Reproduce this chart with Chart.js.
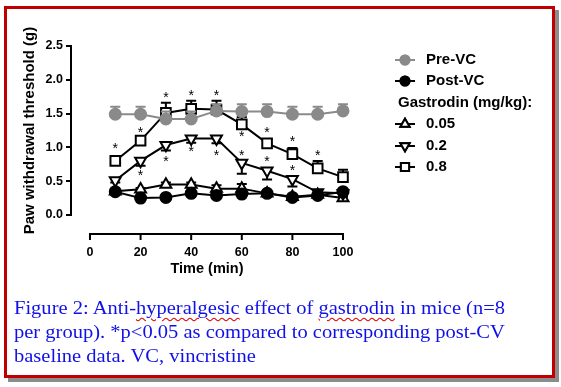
<!DOCTYPE html>
<html><head><meta charset="utf-8">
<script src="https://cdn.jsdelivr.net/npm/chart.js@4/dist/chart.umd.min.js"></script>
<style>
html,body{margin:0;padding:0;background:#fff;width:561px;height:387px;overflow:hidden;}
#frame{position:absolute;left:4px;top:6px;width:545px;height:366px;border:3px solid #c00000;box-shadow:4px 4px 0 #8c8c8c;background:#fff;}
#wrap{position:absolute;left:0;top:0;width:561px;height:387px;}
#caption{position:absolute;left:14px;top:296px;font-family:"Liberation Serif",serif;font-size:18px;line-height:24px;color:#1010e8;white-space:nowrap;}
#caption div{transform-origin:0 0;transform:scaleX(1.14);}
.sp{text-decoration:underline wavy #e00000;text-decoration-thickness:1px;text-underline-offset:3px;}
</style></head>
<body>
<div id="frame"></div>
<div id="wrap"><canvas id="c" width="561" height="387"></canvas></div>
<div id="caption"><div>Figure 2: Anti-<span class="sp">hyperalgesic</span> effect of <span class="sp">gastrodin</span> in mice (n=8</div><div>per group). *p&lt;0.05 as compared to corresponding post-CV</div><div>baseline data. VC, vincristine</div></div>
<script>
const times = [10,20,30,40,50,60,70,80,90,100];
const preVC    = [1.49,1.49,1.42,1.42,1.54,1.53,1.53,1.49,1.49,1.54];
const preVCErr = [0.11,0.11,0.11,0.11,0.10,0.11,0.11,0.11,0.11,0.10];
const postVC    = [0.345,0.25,0.26,0.32,0.29,0.31,0.32,0.26,0.29,0.345];
const postVCErr = [0.02,0.02,0.02,0.02,0.02,0.02,0.02,0.02,0.02,0.02];
const g005    = [0.35,0.38,0.45,0.45,0.39,0.39,0.32,0.27,0.30,0.25];
const g005Err = [0.02,0.02,0.03,0.03,0.05,0.07,0.03,0.02,0.02,0.02];
const g02    = [0.51,0.80,1.035,1.13,1.13,0.77,0.655,0.53,0.335,0.32];
const g02Err = [0.03,0.07,0.08,0.06,0.07,0.16,0.13,0.11,0.03,0.03];
const g08    = [0.80,1.10,1.51,1.57,1.56,1.34,1.06,0.90,0.69,0.56];
const g08Err = [0.03,0.03,0.15,0.12,0.13,0.11,0.06,0.09,0.11,0.11];
const starX = [10,20,20,30,30,40,40,50,50,60,60,70,70,80,80,90];
const starY = [1.035,1.27,0.64,1.79,0.84,1.82,0.99,1.82,0.93,1.21,0.93,1.27,0.84,1.14,0.71,0.93];
const xTicks = [0,20,40,60,80,100];
const yTicks = [0,0.5,1,1.5,2,2.5];
const legendLabels = ['Pre-VC','Post-VC','Gastrodin (mg/kg):','0.05','0.2','0.8'];

const GRAY = '#8a8a8a';
const FONT = "'Liberation Sans', Arial, sans-serif";

function ds(label, data, err, dir, color, style, r, fill, rot){
  return {label, data: data.map((v,i)=>({x:times[i], y:v})), err, dir,
    borderColor: color, backgroundColor: fill, borderWidth: 2,
    pointStyle: style, pointRadius: r, pointRotation: rot||0,
    pointBackgroundColor: fill, pointBorderColor: color, pointBorderWidth: 2,
    tension: 0, clip: false, showLine: true};
}
// dir: +1 = error bar drawn upward, -1 = downward
const datasets = [
  ds('Pre-VC', preVC, preVCErr, 1, GRAY, 'circle', 5.5, GRAY),
  ds('Post-VC', postVC, postVCErr, 1, '#000', 'circle', 5.5, '#000'),
  ds('0.8', g08, g08Err, 1, '#000', 'rect', 6.8, '#fff'),
  ds('0.2', g02, g02Err, -1, '#000', 'triangle', 6.3, '#fff', 180),
  ds('0.05', g005, g005Err, 1, '#000', 'triangle', 6.3, '#fff'),
];

const prism = {
  id: 'prism',
  beforeDatasetDraw(chart, args){
    const d = chart.data.datasets[args.index];
    const xs = chart.scales.x, ys = chart.scales.y, ctx = chart.ctx;
    ctx.save();
    ctx.strokeStyle = d.borderColor; ctx.lineWidth = 2;
    d.data.forEach((p,i)=>{
      const px = xs.getPixelForValue(p.x);
      const y0 = ys.getPixelForValue(p.y);
      const y1 = ys.getPixelForValue(p.y + d.dir * d.err[i]);
      ctx.beginPath(); ctx.moveTo(px,y0); ctx.lineTo(px,y1);
      ctx.moveTo(px-5,y1); ctx.lineTo(px+5,y1); ctx.stroke();
    });
    ctx.restore();
  },
  afterDraw(chart){
    const ctx = chart.ctx, xs = chart.scales.x, ys = chart.scales.y;
    ctx.save();
    // x axis (offset Prism style)
    const ay = ys.getPixelForValue(0) + 19;
    ctx.strokeStyle = '#000'; ctx.lineWidth = 2;
    ctx.beginPath();
    ctx.moveTo(xs.getPixelForValue(xTicks[0]) - 1, ay);
    ctx.lineTo(xs.getPixelForValue(xTicks[xTicks.length-1]) + 1, ay);
    xTicks.forEach(t=>{ const px = xs.getPixelForValue(t); ctx.moveTo(px, ay); ctx.lineTo(px, ay+6); });
    ctx.stroke();
    // asterisks
    ctx.fillStyle = '#000';
    ctx.font = '14px ' + FONT;
    ctx.textAlign = 'center'; ctx.textBaseline = 'alphabetic';
    starX.forEach((x,i)=>{
      ctx.fillText('*', xs.getPixelForValue(x), ys.getPixelForValue(starY[i]) + 8);
    });
    // legend
    const lx = 405, rows = [60, 81, 103, 124, 146, 167];
    const order = [0,1,-1,4,3,2];
    ctx.font = 'bold 15px ' + FONT;
    ctx.textBaseline = 'middle';
    order.forEach((di, k)=>{
      const y = rows[k];
      if (di < 0){ ctx.textAlign='left'; ctx.fillStyle='#000'; ctx.fillText(legendLabels[k], 398, y); return; }
      const d = chart.data.datasets[di];
      ctx.strokeStyle = d.borderColor; ctx.lineWidth = 2;
      ctx.beginPath(); ctx.moveTo(lx-10, y); ctx.lineTo(lx+10, y); ctx.stroke();
      ctx.fillStyle = d.pointBackgroundColor;
      Chart.helpers.drawPoint(ctx, {pointStyle: d.pointStyle, radius: d.pointRadius-1, rotation: d.pointRotation, borderWidth: 2}, lx, y);
      ctx.fill(); ctx.stroke();
      ctx.fillStyle = '#000'; ctx.textAlign='left';
      ctx.fillText(legendLabels[k], 426, y);
    });
    ctx.restore();
  }
};

new Chart(document.getElementById('c'), {
  type: 'scatter',
  data: { datasets },
  options: {
    responsive: false, animation: false, events: [],
    layout: { padding: { left: 18, top: 46, right: 561-343, bottom: 387-280 } },
    plugins: { legend: { display: false }, tooltip: { enabled: false } },
    scales: {
      x: {
        type: 'linear', min: -7.5, max: 100,
        afterBuildTicks: s => { s.ticks = xTicks.map(v=>({value:v})); },
        afterFit: s => { s.height = 280 - 215; },
        grid: { display: false, drawTicks: false }, border: { display: false },
        ticks: { color: '#000', font: { family: FONT, weight: 'bold', size: 12.5 }, padding: 30, autoSkip: false, maxRotation: 0 },
        title: { display: true, text: 'Time (min)', color: '#000',
                 font: { family: FONT, weight: 'bold', size: 14.5 }, padding: { top: 0, bottom: 2 } }
      },
      y: {
        type: 'linear', min: 0, max: 2.5,
        afterBuildTicks: s => { s.ticks = yTicks.map(v=>({value:v})); },
        afterFit: s => { s.width = 53; },
        grid: { drawOnChartArea: false, drawTicks: true, tickLength: 5, color: '#000', lineWidth: 2 },
        border: { display: true, color: '#000', width: 2 },
        ticks: { color: '#000', font: { family: FONT, weight: 'bold', size: 12.5 }, padding: 3,
                 callback: v => v.toFixed(1) },
        title: { display: true, text: 'Paw withdrawal threshold (g)', color: '#000',
                 font: { family: FONT, weight: 'bold', size: 15 }, padding: { top: 3, bottom: 0 } }
      }
    }
  },
  plugins: [prism]
});
</script>
</body></html>
